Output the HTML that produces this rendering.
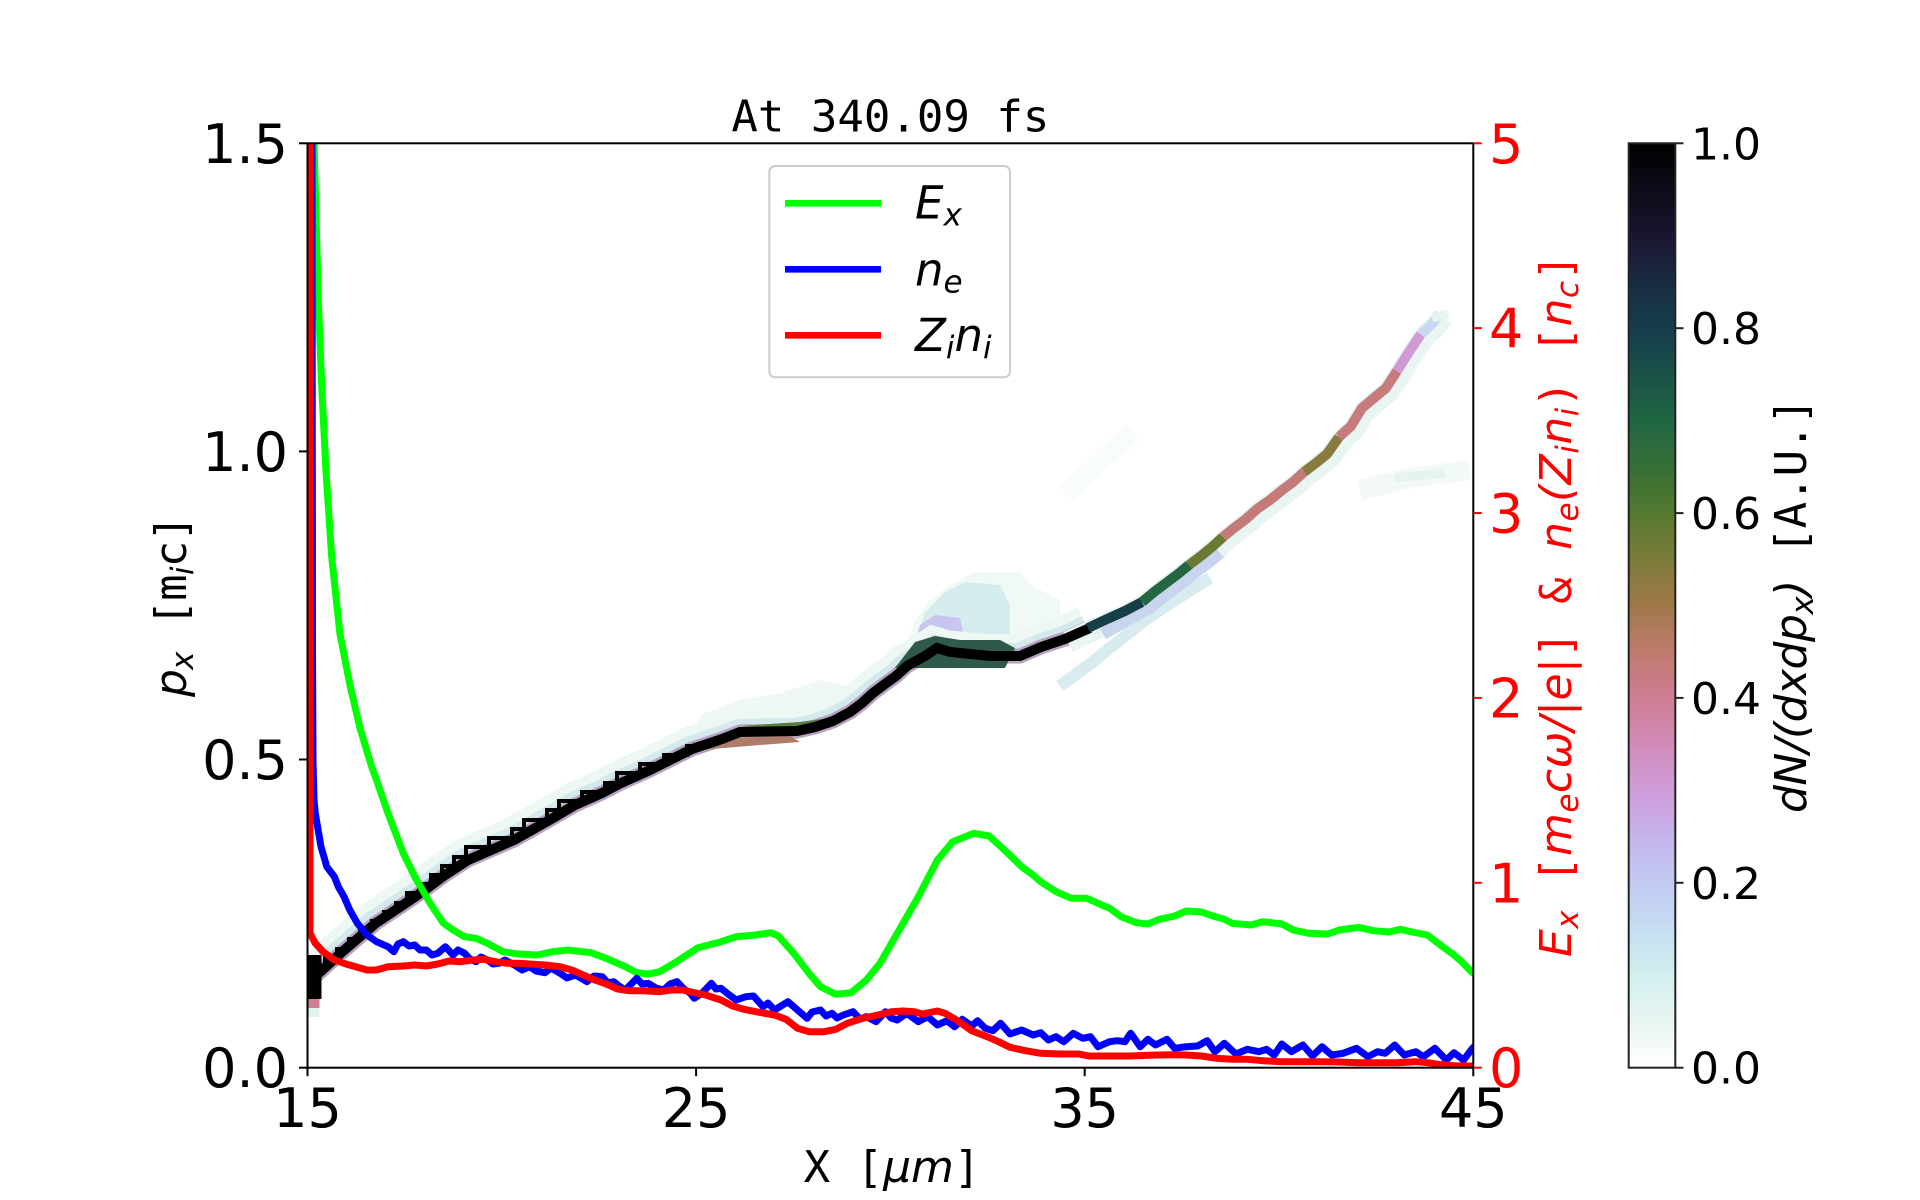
<!DOCTYPE html>
<html><head><meta charset="utf-8"><style>
html,body{margin:0;padding:0;background:#fff;}
svg{display:block;}
.t{font-family:"DejaVu Sans","Liberation Sans",sans-serif;}
.m{font-family:"DejaVu Sans Mono","Liberation Mono",monospace;}
</style></head><body>
<svg width="1920" height="1200" viewBox="0 0 1920 1200" xmlns="http://www.w3.org/2000/svg">
<defs>
<clipPath id="pc"><rect x="307.5" y="143.3" width="1165.8" height="924.4"/></clipPath>
<linearGradient id="cb" x1="0" y1="1" x2="0" y2="0">
<stop offset="0" stop-color="#ffffff"/>
<stop offset="0.05" stop-color="#e8f6f2"/>
<stop offset="0.1" stop-color="#d2eeef"/>
<stop offset="0.15" stop-color="#c6ddf1"/>
<stop offset="0.2" stop-color="#c1caf3"/>
<stop offset="0.25" stop-color="#c6b3ea"/>
<stop offset="0.3" stop-color="#cf9cda"/>
<stop offset="0.35" stop-color="#d28bb8"/>
<stop offset="0.4" stop-color="#d07e93"/>
<stop offset="0.45" stop-color="#bd7a6c"/>
<stop offset="0.5" stop-color="#a07949"/>
<stop offset="0.55" stop-color="#7b7a3a"/>
<stop offset="0.6" stop-color="#54792f"/>
<stop offset="0.65" stop-color="#366f38"/>
<stop offset="0.7" stop-color="#1f6642"/>
<stop offset="0.75" stop-color="#195148"/>
<stop offset="0.8" stop-color="#163d4e"/>
<stop offset="0.85" stop-color="#192a42"/>
<stop offset="0.9" stop-color="#1a1530"/>
<stop offset="0.95" stop-color="#0e0a18"/>
<stop offset="1" stop-color="#000000"/>
</linearGradient>
</defs>
<rect width="1920" height="1200" fill="#fff"/>

<g clip-path="url(#pc)">
<polyline points="1066,494 1100,462 1133,432" fill="none" stroke="#f8fcfb" stroke-width="20"/>
<polyline points="1360,490 1410,478 1470,470" fill="none" stroke="#f2f9f6" stroke-width="20"/>
<polyline points="1395,478 1445,473" fill="none" stroke="#e6f4f1" stroke-width="9"/>
<polygon points="690,745 700,715 740,700 780,693 820,680 845,685 850,705 830,720 800,727 740,733" fill="#f0f8f5"/>
<polygon points="905,650 915,620 930,600 950,585 975,572 1020,572 1030,585 1060,600 1060,640 1000,645 960,645" fill="#f1f9f6"/>
<polygon points="915,645 925,612 945,592 965,582 1000,585 1010,605 1010,640" fill="#d6edef"/>
<polygon points="912,650 920,625 935,615 960,618 965,640" fill="#c8c6ee"/>
<polyline points="1060,686 1090,664 1120,640 1145,620 1175,600 1210,578" fill="none" stroke="#d8ecf0" stroke-width="12" stroke-linejoin="round"/>
<g fill="none" stroke-linejoin="miter" stroke-linecap="butt">
<polyline transform="translate(-4,-7)" stroke="#edf7f4" stroke-width="30" points="309,982 342,952 376,923 400,907 422,892 445,875 468,860 491,850 514,840 530,831 553,818 575,805 602,793 621,783 648,771 670,760 692,749 722,739 740,732 797,731 815,727 833,721 850,712 862,703 873,693 885,684 896,676 907,666 925,656 937,648 950,652 990,656 1020,656 1041,647 1065,639 1088,628"/>
<polyline transform="translate(-2,-3)" stroke="#d4e9ec" stroke-width="20" points="309,982 342,952 376,923 400,907 422,892 445,875 468,860 491,850 514,840 530,831 553,818 575,805 602,793 621,783 648,771 670,760 692,749 722,739 740,732 797,731 815,727 833,721 850,712 862,703 873,693 885,684 896,676 907,666 925,656 937,648 950,652 990,656 1020,656 1041,647 1065,639 1088,628"/>
<polyline stroke="#b8a2c0" stroke-width="15" points="309,982 342,952 376,923 400,907 422,892 445,875 468,860 491,850 514,840 530,831 553,818 575,805 602,793 621,783 648,771 670,760 692,749 722,739 740,732 797,731 815,727 833,721 850,712 862,703 873,693 885,684 896,676 907,666 925,656 937,648 950,652 990,656 1020,656 1041,647 1065,639 1088,628"/>
<polyline transform="translate(3,3)" stroke="#e9f5f3" stroke-width="22" points="1065,639 1088,628 1107,619 1125,611 1142,602 1154,592 1166,583 1178,574 1189,565 1201,556 1212,547 1223,537 1234,528 1246,519 1257,509 1270,500 1281,491 1293,482 1304,472 1316,463 1327,454 1339,437 1351,426 1362,408 1374,398 1386,388 1397,371 1409,352 1421,334 1432,324 1440,314"/>
<polyline transform="translate(8,6)" stroke="#c9d5ee" stroke-width="12" points="1095,628 1125,611 1142,602 1154,592 1166,583 1178,574 1189,565 1201,556 1212,547"/>
<polygon points="895,668 915,642 935,636 960,640 1000,640 1015,648 1005,668 960,668" fill="#2f5a4a" stroke="none"/>
<polygon points="693,745 730,738 790,736 800,742 760,745 700,750" fill="#b07c6a" stroke="none"/>
<polygon points="740,726 800,722 830,718 830,728 790,729" fill="#5c7a40" stroke="none"/>
<polyline stroke="#000" stroke-width="10" points="309,982 342,952 376,923 400,907 422,892 445,875 468,860 491,850 514,840 530,831 553,818 575,805 602,793 621,783 648,771 670,760 692,749 722,739 740,732 797,731 815,727 833,721 850,712 862,703 873,693 885,684 896,676 907,666 925,656 937,648 950,652 990,656 1020,656 1041,647 1065,639 1090,628"/>
<polyline transform="translate(0,-8)" stroke="#000" stroke-width="4" points="313,975 325,975 325,966 337,966 337,957 349,957 349,947 360,947 360,938 372,938 372,929 384,929 384,920 396,920 396,911 407,911 407,901 419,901 419,892 431,892 431,883 442,883 442,874 454,874 454,865 466,865 466,855 489,855 489,846 512,846 512,837 524,837 524,828 547,828 547,818 559,818 559,809 582,809 582,800 605,800 605,791 617,791 617,781 640,781 640,772 664,772 664,763 687,763 687,754 710,754"/>
<polyline stroke="#163f48" stroke-width="10" points="1088,628 1107,619 1125,611 1142,602"/>
<polyline stroke="#236640" stroke-width="10" points="1142,602 1154,592 1166,583 1178,574 1189,565"/>
<polyline stroke="#6a7a32" stroke-width="10" points="1189,565 1201,556 1212,547 1223,537"/>
<polyline stroke="#c47a78" stroke-width="10" points="1223,537 1234,528 1246,519 1257,509 1270,500 1281,491 1293,482 1304,472"/>
<polyline stroke="#8a7a40" stroke-width="10" points="1304,472 1316,463 1327,454 1339,437"/>
<polyline stroke="#c67c7c" stroke-width="10" points="1339,437 1351,426 1362,408 1374,398 1386,388 1397,371"/>
<polyline stroke="#d09ad4" stroke-width="10" points="1397,371 1409,352 1421,334"/>
<polyline stroke="#c8d8f0" stroke-width="10" points="1421,334 1432,324 1440,314"/>
<polyline stroke="#e6f4f1" stroke-width="9" points="1432,318 1448,314"/>
</g>
<rect x="307.5" y="955" width="14" height="44" fill="#000"/>
<rect x="307.5" y="999" width="12" height="9" fill="#cf7f94"/>
<rect x="307.5" y="1008" width="12" height="9" fill="#e0f2ee"/>

<g fill="none" stroke-width="7" stroke-linejoin="round" stroke-linecap="round">
<polyline stroke="#00ff00" points="313.5,130 314,143.3 316,214.8 318.3,300.4 321.7,385.9 326,471.5 331.7,557.1 340,634.1 350,685.4 360,728.2 371.7,766.8 376.5,780 388,813.3 403.3,853.3 414.8,876.7 430.1,903.3 443.5,923.3 453.1,930 464.6,936.7 476,938.3 487.5,943.3 502.8,951.7 518.1,954 537.3,955 552.6,951.7 567.9,950 590.9,952.7 606.2,958.3 625.3,966.7 636.8,972.7 648.3,974 659.7,971.7 675,962.7 698,947.7 721,941.7 736.3,936.7 755.4,935 770.7,932.7 778.4,936 793.7,953.3 809,973.3 820.5,986.7 835.8,994.3 851.1,992.7 866.4,980 880,963.3 895.3,936.7 918.3,896.7 937.4,860 952.7,841.7 973.8,833.3 989.1,836 1006.3,851.7 1021.6,866.7 1033.1,875 1040.7,881.7 1056,891.7 1071.4,898.3 1086.7,898.3 1102,905 1109.6,908.3 1121.1,916.7 1136.4,922.7 1147.9,924 1159.4,919.3 1174.7,916 1186.2,911 1201.5,912 1212.9,916 1224.4,919.3 1232.1,923.3 1251.2,925 1262.7,921.7 1281.8,924 1293.3,930 1308.6,933.3 1327.8,934 1339.2,930 1358.4,927.3 1373.7,930.7 1389,932 1400.5,929.3 1411.9,932 1427.3,935 1442.6,946.7 1454,955 1461.7,961.7 1471.3,971.7 1476,975"/>
<polyline stroke="#0000ff" points="312,130 312.5,650 313,760 314,800 315.3,813.3 321,846.7 326.8,866.7 334.4,876.7 338.3,886.7 344,896.7 349.8,910 357.4,923.3 367,935 376.5,941.7 388,946.7 393.8,951.7 398,944 403.3,941.7 409,946 414.8,945 420,950 426.3,950 432,955 437.8,953.3 445.4,946.7 453.1,955 458,950 464.6,953.3 470,959 476,961.7 481,957 487.5,960 493,964 499,963.3 505,960 514.3,965 522,970 529.6,966.7 536,971 544.9,972.7 551,968 560.2,973.3 567,978 575.5,975 587,981.7 594,976 602.3,976.7 608,983 613.8,981.7 619,986 625.3,990 636.8,978.3 642,984 648.3,983.3 656,988 663.6,990 670,984 677,981.7 684,989 690.4,993.3 694.2,998.3 701.8,993.3 711.4,983.3 716,989 721,988.3 728,994 736.3,1000 745.8,996.7 753.5,996 763.1,1006.7 768,1003 774.6,1010 781,1006 787.9,1001.7 797.5,1010 807.1,1018.3 812,1012 820.5,1010 826,1016 832,1013.3 837,1018 843.4,1015 853,1011.7 860,1019 866.4,1016.7 876,1021.7 885.5,1011.7 891,1018 897.2,1020 906.8,1013.3 918.3,1021.7 927.8,1016.7 937.4,1025 947,1020.7 954.6,1026.7 962.3,1019.3 971.8,1026 977.6,1020.7 985.2,1028.3 992.9,1030.7 1000.6,1023.3 1010.1,1034 1021.6,1030 1033.1,1035 1040.7,1032.7 1048.4,1040 1056,1036.7 1063.7,1041.7 1073.3,1033.3 1082.8,1038.3 1090.5,1036.7 1098.1,1046.7 1109.6,1041.7 1117.3,1040.7 1124.9,1041.7 1130.7,1033.3 1140.2,1046.7 1147.9,1039.3 1155.5,1045 1167,1039.3 1174.7,1048.3 1186.2,1046.7 1197.6,1046 1207.2,1040.7 1214.9,1051.7 1224.4,1043.3 1235.9,1054 1247.4,1049.3 1258.9,1051.7 1266.5,1049.3 1274.2,1055 1281.8,1044 1291.4,1051.7 1302.9,1045 1312.5,1056 1322,1046.7 1331.6,1055 1343.1,1053.3 1356.5,1048.3 1367.9,1056.7 1377.5,1051.7 1385.2,1053.3 1394.7,1045 1404.3,1055 1415.8,1051.7 1423.4,1056.7 1434.9,1048.3 1446.4,1060 1454,1052.7 1463.6,1060 1472.4,1048.3 1476,1045"/>
<polyline stroke="#ff0000" points="310,130 310,933.3 315.3,943.3 323,951.7 334.4,960 345.9,964 357.4,967.3 367,970 376.5,970 388,966.7 403.3,966 414.8,965 426.3,966 437.8,964 449.3,961 460.7,961.7 472.2,960 483.7,959.3 495.2,961.7 506.7,963.3 518.1,963.3 529.6,964 544.9,965 560.2,966.7 571.7,970 583.2,975 594.7,980 606.2,984 617.6,989 629.1,990.7 644.4,990.7 659.7,991.7 671.2,990 682.7,990 694.2,992.7 705.7,995 721,1000 732.5,1006 743.9,1009.3 759.2,1012.3 774.6,1015 786,1019.3 797.5,1028.3 809,1031.7 824.3,1031.7 835.8,1029.3 847.3,1023.3 862.6,1018.3 877.9,1015 891.5,1011.7 903,1011 914.4,1011.7 922.1,1014 937.4,1011 945.1,1013.3 956.5,1020 971.8,1030.7 987.2,1036.7 998.6,1041.7 1010.1,1047.3 1025.4,1050.7 1040.7,1053.3 1059.9,1054 1079,1054 1088.6,1056 1109.6,1056 1128.8,1056 1147.9,1055.3 1170.9,1054.7 1186.2,1055 1201.5,1056 1216.8,1058.3 1232.1,1059.3 1247.4,1059.3 1262.7,1060.7 1281.8,1061.7 1301,1061.7 1320.1,1061.7 1339.2,1062 1358.4,1062.7 1377.5,1062.7 1396.7,1062.7 1415.8,1061.7 1427.3,1062.7 1438.7,1064.3 1454,1065.7 1472.4,1066 1476,1066"/>
</g>
</g>

<rect x="769.3" y="166" width="240.7" height="211.3" rx="6" ry="6" fill="#fff" fill-opacity="0.85" stroke="#cccccc" stroke-width="2"/>
<line x1="785" y1="203.3" x2="881" y2="203.3" stroke="#00ff00" stroke-width="6.7"/>
<line x1="785" y1="269.3" x2="881" y2="269.3" stroke="#0000ff" stroke-width="6.7"/>
<line x1="785" y1="335.3" x2="881" y2="335.3" stroke="#ff0000" stroke-width="6.7"/>
<text class="t" x="915" y="218.3" font-size="45" font-style="italic">E<tspan font-size="31" dy="7">x</tspan></text>
<text class="t" x="915" y="285.5" font-size="45" font-style="italic">n<tspan font-size="31" dy="7">e</tspan></text>
<text class="t" x="915" y="351" font-size="45" font-style="italic">Z<tspan font-size="31" dy="7">i</tspan><tspan dy="-7">n</tspan><tspan font-size="31" dy="7">i</tspan></text>

<g stroke="#000" stroke-width="2" fill="none">
<rect x="307.5" y="143.3" width="1165.8" height="924.4"/>
<line x1="299" y1="1067.7" x2="307.5" y2="1067.7"/>
<line x1="299" y1="759.5" x2="307.5" y2="759.5"/>
<line x1="299" y1="451.4" x2="307.5" y2="451.4"/>
<line x1="299" y1="143.3" x2="307.5" y2="143.3"/>
<line x1="307.5" y1="1067.7" x2="307.5" y2="1076.2"/>
<line x1="696.1" y1="1067.7" x2="696.1" y2="1076.2"/>
<line x1="1084.7" y1="1067.7" x2="1084.7" y2="1076.2"/>
<line x1="1473.3" y1="1067.7" x2="1473.3" y2="1076.2"/>
</g>
<g stroke="#ff0000" stroke-width="2">
<line x1="1473.3" y1="1067.7" x2="1481.8" y2="1067.7"/>
<line x1="1473.3" y1="882.8" x2="1481.8" y2="882.8"/>
<line x1="1473.3" y1="697.9" x2="1481.8" y2="697.9"/>
<line x1="1473.3" y1="513.0" x2="1481.8" y2="513.0"/>
<line x1="1473.3" y1="328.1" x2="1481.8" y2="328.1"/>
<line x1="1473.3" y1="143.3" x2="1481.8" y2="143.3"/>
</g>

<g class="t" font-size="54" text-anchor="end" fill="#000">
<text x="288" y="1087.2">0.0</text>
<text x="288" y="779">0.5</text>
<text x="288" y="470.9">1.0</text>
<text x="288" y="162.8">1.5</text>
</g>
<g class="t" font-size="54" text-anchor="middle" fill="#000">
<text x="307.5" y="1127">15</text>
<text x="696.1" y="1127">25</text>
<text x="1084.7" y="1127">35</text>
<text x="1473.3" y="1127">45</text>
</g>
<g class="t" font-size="54" fill="#ff0000">
<text x="1489" y="1087.2">0</text>
<text x="1489" y="902.3">1</text>
<text x="1489" y="717.4">2</text>
<text x="1489" y="532.5">3</text>
<text x="1489" y="347.6">4</text>
<text x="1489" y="162.8">5</text>
</g>

<text class="m" x="890.4" y="131.7" font-size="44" text-anchor="middle" textLength="318" lengthAdjust="spacing">At 340.09 fs</text>

<text x="892" y="1182" font-size="44" text-anchor="middle" fill="#000"><tspan class="m">X [</tspan><tspan class="t" font-style="italic">μm</tspan><tspan class="m">]</tspan></text>

<text transform="translate(186,606) rotate(-90)" font-size="44" text-anchor="middle" fill="#000" textLength="182" lengthAdjust="spacing"><tspan class="t" font-style="italic">p</tspan><tspan class="t" font-style="italic" font-size="31" dy="7">x</tspan><tspan class="m" dy="-7"> [m</tspan><tspan class="t" font-style="italic" font-size="31" dy="7">i</tspan><tspan class="m" dy="-7">c]</tspan></text>

<text transform="translate(1571,605.5) rotate(-90)" font-size="44" text-anchor="middle" fill="#ff0000" textLength="703" lengthAdjust="spacing"><tspan class="t" font-style="italic">E</tspan><tspan class="t" font-style="italic" font-size="31" dy="7">x</tspan><tspan class="m" dy="-7"> [</tspan><tspan class="t" font-style="italic">m</tspan><tspan class="t" font-style="italic" font-size="31" dy="7">e</tspan><tspan class="t" font-style="italic" dy="-7">cω/|e|</tspan><tspan class="m">] &amp; </tspan><tspan class="t" font-style="italic">n</tspan><tspan class="t" font-style="italic" font-size="31" dy="7">e</tspan><tspan class="t" font-style="italic" dy="-7">(Z</tspan><tspan class="t" font-style="italic" font-size="31" dy="7">i</tspan><tspan class="t" font-style="italic" dy="-7">n</tspan><tspan class="t" font-style="italic" font-size="31" dy="7">i</tspan><tspan class="m" dy="-7">) [</tspan><tspan class="t" font-style="italic">n</tspan><tspan class="t" font-style="italic" font-size="31" dy="7">c</tspan><tspan class="m" dy="-7">]</tspan></text>

<rect x="1628.7" y="143.3" width="46.6" height="924.4" fill="url(#cb)" stroke="#222" stroke-width="2"/>
<g stroke="#222" stroke-width="2">
<line x1="1675.3" y1="1067.7" x2="1683.5" y2="1067.7"/>
<line x1="1675.3" y1="882.8" x2="1683.5" y2="882.8"/>
<line x1="1675.3" y1="697.9" x2="1683.5" y2="697.9"/>
<line x1="1675.3" y1="513.1" x2="1683.5" y2="513.1"/>
<line x1="1675.3" y1="328.2" x2="1683.5" y2="328.2"/>
<line x1="1675.3" y1="143.3" x2="1683.5" y2="143.3"/>
</g>
<g class="t" font-size="44" fill="#000">
<text x="1691" y="1083.7">0.0</text>
<text x="1691" y="898.8">0.2</text>
<text x="1691" y="713.9">0.4</text>
<text x="1691" y="529.1">0.6</text>
<text x="1691" y="344.2">0.8</text>
<text x="1691" y="159.3">1.0</text>
</g>
<text transform="translate(1806,605.5) rotate(-90)" font-size="44" text-anchor="middle" fill="#000" textLength="415" lengthAdjust="spacing"><tspan class="t" font-style="italic">dN/(dxdp</tspan><tspan class="t" font-style="italic" font-size="31" dy="7">x</tspan><tspan class="t" font-style="italic" dy="-7">)</tspan><tspan class="m"> [A.U.]</tspan></text>
</svg>
</body></html>
